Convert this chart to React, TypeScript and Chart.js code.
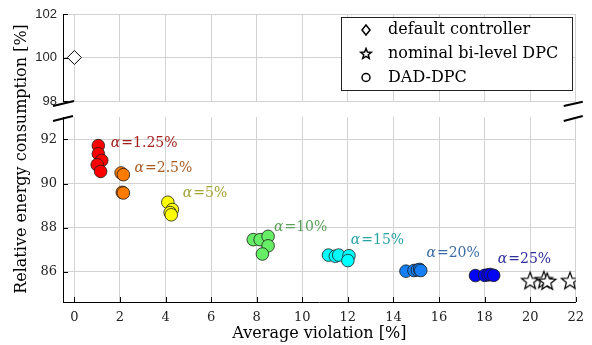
import React, { useEffect, useRef } from 'react';
import { Chart, registerables } from 'chart.js';

Chart.register(...registerables);

// ---------- data ----------
const xTicks = [0, 2, 4, 6, 8, 10, 12, 14, 16, 18, 20, 22];
const yTopTicks = [98, 100, 102];
const yBottomTicks = [86, 88, 90, 92];

const defaultX = [0];
const defaultY = [100];

const nominalX = [20.0, 20.6, 20.75, 21.75];
const nominalY = [85.56, 85.6, 85.53, 85.56];

const alphaLevels = ['1.25%', '2.5%', '5%', '10%', '15%', '20%', '25%'];

const dadX = [
  [1.05, 1.05, 1.2, 1.0, 1.15],
  [2.05, 2.15, 2.1, 2.15],
  [4.1, 4.3, 4.2, 4.25],
  [7.85, 8.15, 8.5, 8.5, 8.25],
  [11.15, 11.45, 11.6, 12.05, 12.0],
  [14.55, 14.9, 15.05, 15.15, 15.2],
  [17.6, 18.0, 18.15, 18.25, 18.4],
];
const dadY = [
  [91.72, 91.35, 91.05, 90.85, 90.55],
  [90.48, 90.4, 89.6, 89.57],
  [89.15, 88.82, 88.68, 88.58],
  [87.45, 87.45, 87.6, 87.17, 86.8],
  [86.75, 86.7, 86.75, 86.72, 86.5],
  [86.02, 86.05, 86.07, 86.1, 86.05],
  [85.82, 85.83, 85.85, 85.87, 85.83],
];

const labelX = [1.6, 2.64, 4.76, 8.76, 12.13, 15.45, 18.58];
const labelY = [91.82, 90.67, 89.55, 88.03, 87.42, 86.82, 86.55];

const fillColors = ['#ff0000', '#ff7b00', '#ffff00', '#66ee66', '#00ffff', '#1580f5', '#0505f5'];
const labelColors = ['#a31d1d', '#a85c22', '#a3a338', '#5aa05a', '#2aa3a3', '#3c6ca5', '#2e2e9c'];

const legendLabels = ['default controller', 'nominal bi-level DPC', 'DAD-DPC'];

const SERIF = '"DejaVu Serif", serif';
const SANS = '"Liberation Sans", Arial, sans-serif';

function starPath(ctx: CanvasRenderingContext2D, cx: number, cy: number, outer: number, inner: number) {
  ctx.beginPath();
  for (let i = 0; i < 10; i++) {
    const r = i % 2 === 0 ? outer : inner;
    const a = -Math.PI / 2 + (i * Math.PI) / 5;
    const px = cx + r * Math.cos(a);
    const py = cy + r * Math.sin(a);
    if (i === 0) ctx.moveTo(px, py);
    else ctx.lineTo(px, py);
  }
  ctx.closePath();
}

function makeStar(size: number, outer: number, inner: number) {
  const c = document.createElement('canvas');
  c.width = size;
  c.height = size;
  const ctx = c.getContext('2d')!;
  starPath(ctx, size / 2, size / 2, outer, inner);
  ctx.fillStyle = '#fff';
  ctx.fill();
  ctx.lineWidth = 1.2;
  ctx.strokeStyle = '#000';
  ctx.stroke();
  return c;
}

const decorPlugin = {
  id: 'decor',
  beforeDatasetsDraw(chart: any) {
    const { ctx, chartArea, scales } = chart;
    const gap = scales.ygap;
    ctx.save();
    ctx.fillStyle = '#fff';
    ctx.fillRect(chartArea.left + 1, gap.top + 1, chartArea.right - chartArea.left + 3, gap.bottom - gap.top - 1);
    // inward tick marks
    ctx.strokeStyle = '#000';
    ctx.lineWidth = 1;
    ctx.beginPath();
    for (const v of yTopTicks) {
      const y = Math.round(scales.ytop.getPixelForValue(v)) + 0.5;
      ctx.moveTo(chartArea.left, y);
      ctx.lineTo(chartArea.left + 5, y);
    }
    for (const v of yBottomTicks) {
      const y = Math.round(scales.ybot.getPixelForValue(v)) + 0.5;
      ctx.moveTo(chartArea.left, y);
      ctx.lineTo(chartArea.left + 5, y);
    }
    for (const v of xTicks) {
      const x = Math.round(scales.x.getPixelForValue(v)) + 0.5;
      ctx.moveTo(x, chartArea.bottom);
      ctx.lineTo(x, chartArea.bottom - 5);
    }
    ctx.stroke();
    ctx.restore();
  },
  afterDraw(chart: any) {
    const { ctx, chartArea, scales } = chart;
    const gap = scales.ygap;
    ctx.save();

    // alpha labels
    ctx.textBaseline = 'middle';
    ctx.textAlign = 'left';
    alphaLevels.forEach((lvl, i) => {
      const x = scales.x.getPixelForValue(labelX[i]);
      const y = scales.ybot.getPixelForValue(labelY[i]);
      ctx.fillStyle = labelColors[i];
      ctx.font = 'italic 14px ' + SERIF;
      ctx.fillText('α', x, y);
      const w = ctx.measureText('α').width;
      ctx.font = '14px ' + SERIF;
      ctx.fillText('=' + lvl, x + w + 1, y);
    });

    // break marks
    ctx.strokeStyle = '#000';
    ctx.lineWidth = 2;
    ctx.beginPath();
    const L = chartArea.left;
    const R = chartArea.right;
    ctx.moveTo(L - 10, gap.top + 5);
    ctx.lineTo(L + 11, gap.top);
    ctx.moveTo(L - 10, gap.bottom + 4);
    ctx.lineTo(L + 10, gap.bottom - 1);
    ctx.moveTo(R - 12, gap.top + 5);
    ctx.lineTo(R + 7, gap.top + 0.7);
    ctx.moveTo(R - 12, gap.bottom + 4);
    ctx.lineTo(R + 7, gap.bottom - 1);
    ctx.stroke();

    // legend
    ctx.lineWidth = 1;
    ctx.fillStyle = '#fff';
    ctx.fillRect(342, 17, 231, 73);
    ctx.strokeStyle = '#222';
    ctx.strokeRect(341.5, 17.5, 231, 73);
    const rows = [30, 53.5, 77.5];
    const mx = 366;
    ctx.strokeStyle = '#000';
    ctx.lineWidth = 1.5;
    // diamond
    ctx.beginPath();
    ctx.moveTo(mx, rows[0] - 5);
    ctx.lineTo(mx + 4, rows[0]);
    ctx.lineTo(mx, rows[0] + 5);
    ctx.lineTo(mx - 4, rows[0]);
    ctx.closePath();
    ctx.stroke();
    // star
    starPath(ctx, mx, rows[1] + 0.5, 5.5, 2.4);
    ctx.stroke();
    // circle
    ctx.beginPath();
    ctx.arc(mx, rows[2], 4, 0, Math.PI * 2);
    ctx.stroke();
    ctx.fillStyle = '#000';
    ctx.font = '16px ' + SERIF;
    ctx.textBaseline = 'middle';
    legendLabels.forEach((t, i) => ctx.fillText(t, 388, rows[i]));

    // y title
    ctx.translate(22, 159);
    ctx.rotate(-Math.PI / 2);
    ctx.textAlign = 'center';
    ctx.font = '16px ' + SERIF;
    ctx.fillText('Relative energy consumption [%]', 0, 0);
    ctx.restore();
  },
};

export default function App() {
  const ref = useRef<HTMLCanvasElement | null>(null);

  useEffect(() => {
    const star = makeStar(22, 9, 3.8);
    const datasets: any[] = [
      {
        label: legendLabels[0],
        data: defaultX.map((x, i) => ({ x, y: defaultY[i] })),
        yAxisID: 'ytop',
        pointStyle: 'rectRot',
        pointRadius: 7,
        backgroundColor: '#fff',
        borderColor: '#000',
        borderWidth: 1,
      },
      {
        label: legendLabels[1],
        data: nominalX.map((x, i) => ({ x, y: nominalY[i] })),
        yAxisID: 'ybot',
        pointStyle: star,
        pointRadius: 9,
      },
      ...alphaLevels.map((lvl, g) => ({
        label: 'α=' + lvl,
        data: dadX[g].map((x, i) => ({ x, y: dadY[g][i] })),
        yAxisID: 'ybot',
        pointStyle: 'circle',
        pointRadius: 6.3,
        backgroundColor: fillColors[g],
        borderColor: '#1a1a1a',
        borderWidth: 0.8,
      })),
    ];

    const gridColor = '#d2d2d2';
    const chart = new Chart(ref.current!, {
      type: 'scatter',
      data: { datasets },
      options: {
        animation: false,
        responsive: false,
        devicePixelRatio: 1,
        layout: { padding: { left: 0, right: 9, top: 14, bottom: 0 } },
        plugins: { legend: { display: false }, tooltip: { enabled: false } },
        scales: {
          x: {
            type: 'linear',
            min: -0.5,
            max: 22,
            afterBuildTicks: (s: any) => {
              s.ticks = xTicks.map((v) => ({ value: v }));
            },
            afterFit: (s: any) => {
              s.height = 43;
            },
            grid: { color: gridColor, drawTicks: false },
            border: { color: '#000', width: 1 },
            ticks: { font: { family: SERIF, size: 13 }, color: '#222', padding: 8 },
            title: {
              display: true,
              text: 'Average violation [%]',
              font: { family: SERIF, size: 16 },
              color: '#000',
              padding: { top: 0, bottom: 2 },
            },
          },
          ybot: {
            type: 'linear',
            axis: 'y',
            position: 'left',
            stack: 'ystack',
            stackWeight: 185,
            weight: 1,
            min: 84.62,
            max: 93.02,
            afterBuildTicks: (s: any) => {
              s.ticks = yBottomTicks.map((v) => ({ value: v }));
            },
            afterFit: (s: any) => {
              s.width = 63;
            },
            grid: { color: gridColor, drawTicks: false },
            border: { color: '#000', width: 1 },
            ticks: { font: { family: SERIF, size: 13 }, color: '#222', padding: 6 },
          },
          ygap: {
            type: 'linear',
            axis: 'y',
            position: 'left',
            stack: 'ystack',
            stackWeight: 16,
            weight: 2,
            min: 0,
            max: 1,
            afterFit: (s: any) => {
              s.width = 63;
            },
            grid: { display: false, drawTicks: false },
            border: { display: false },
            ticks: { display: false },
          },
          ytop: {
            type: 'linear',
            axis: 'y',
            position: 'left',
            stack: 'ystack',
            stackWeight: 87,
            weight: 3,
            min: 98,
            max: 102,
            afterBuildTicks: (s: any) => {
              s.ticks = yTopTicks.map((v) => ({ value: v }));
            },
            afterFit: (s: any) => {
              s.width = 63;
            },
            grid: { color: gridColor, drawTicks: false },
            border: { color: '#000', width: 1 },
            ticks: { font: { family: SANS, size: 13 }, color: '#262626', padding: 6 },
          },
        } as any,
      },
      plugins: [decorPlugin],
    });
    return () => chart.destroy();
  }, []);

  return (
    <div style={{ position: 'fixed', left: 0, top: 0, width: 592, height: 345, background: '#fff' }}>
      <canvas ref={ref} width={592} height={345} style={{ width: 592, height: 345 }} />
    </div>
  );
}
